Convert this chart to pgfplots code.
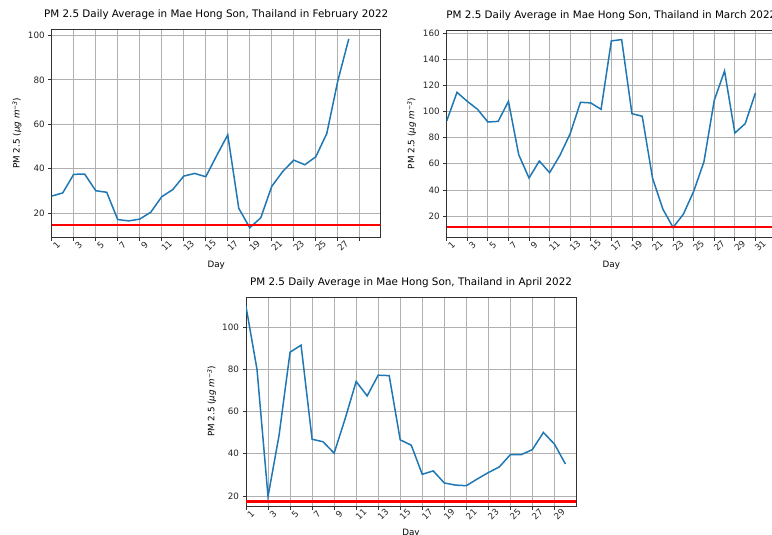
\documentclass[border=0pt]{standalone}
\usepackage{fontspec}
\setmainfont{DejaVu Sans}
\usepackage{pgfplots}
\pgfplotsset{compat=1.18}
\definecolor{mplblue}{HTML}{1F77B4}
\definecolor{gridc}{HTML}{B0B0B0}
\definecolor{framec}{HTML}{333333}
\definecolor{hred}{HTML}{FF0000}
\pgfplotsset{
  mystyle/.style={
    scale only axis, anchor=south west,
    axis line style={line width=0.8bp, color=framec},
    grid=major, major grid style={line width=0.8bp, color=gridc},
    tick style={line width=0.8bp, color=framec},
    tick align=outside, major tick length=3.5bp,
    xtick pos=bottom, ytick pos=left,
    /pgf/number format/assume math mode=true,
    scaled ticks=false,
    tick label style={font=\fontsize{8.8}{10}\selectfont, color=black!85},
    xticklabel style={rotate=45, anchor=center, yshift=-7bp},
    title style={font=\fontsize{10.4}{12}\selectfont, at={(axis description cs:0.5,1)}, anchor=south, yshift=3bp, inner sep=0pt},
    xlabel={Day},
    xlabel style={font=\fontsize{8.8}{10}\selectfont, at={(axis description cs:0.5,0)}, yshift=-27.7bp, anchor=center, inner sep=0pt},
    ylabel={PM 2.5 (\textit{μg m}\raisebox{0.55ex}{\fontsize{6.2}{7}\selectfont\textit{−3}})},
    ylabel style={font=\fontsize{8.8}{10}\selectfont, at={(axis description cs:0,0.5)}, anchor=center, inner sep=0pt},
  }
}
\begin{document}
\begin{tikzpicture}
\useasboundingbox (0bp,0bp) rectangle (772bp,535bp);
% February
\begin{axis}[mystyle, at={(51.7bp,297.7bp)}, width=329bp, height=208bp,
  xmin=1, xmax=30.9, ymin=9.0, ymax=102.8,
  ylabel style={yshift=34.7bp},
  xtick={1,3,5,7,9,11,13,15,17,19,21,23,25,27,29},
  xticklabels={1,3,5,7,9,11,13,15,17,19,21,23,25,27,{}},
  ytick={20,40,60,80,100},
  title={PM 2.5 Daily Average in Mae Hong Son, Thailand in February 2022}]
\addplot[mplblue, line width=1.5bp] coordinates {
(1,27.6) (2,29.0) (3,37.4) (4,37.5) (5,30.0) (6,29.3) (7,17.0) (8,16.4)
(9,17.2) (10,20.3) (11,27.3) (12,30.5) (13,36.6) (14,37.8) (15,36.3) (16,45.9)
(17,55.2) (18,22.1) (19,13.3) (20,17.8) (21,32.0) (22,38.7) (23,43.8) (24,41.7)
(25,45.3) (26,55.8) (27,79.5) (28,98.5)};
\addplot[hred, line width=1.6bp] coordinates {(1,14.6) (30.9,14.6)};
\end{axis}
% March
\begin{axis}[mystyle, at={(446.7bp,297.7bp)}, width=329.3bp, height=207bp,
  xmin=1, xmax=33, ymin=3.8, ymax=162,
  ylabel style={yshift=35bp},
  xtick={1,3,5,7,9,11,13,15,17,19,21,23,25,27,29,31},
  ytick={20,40,60,80,100,120,140,160},
  title={PM 2.5 Daily Average in Mae Hong Son, Thailand in March 2022}]
\addplot[mplblue, line width=1.5bp] coordinates {
(1,92.7) (2,114.6) (3,107.7) (4,101.6) (5,91.9) (6,92.4) (7,107.7) (8,66.9)
(9,49.1) (10,62.1) (11,53.2) (12,66.4) (13,83.0) (14,107.0) (15,106.5) (16,101.6)
(17,153.9) (18,154.9) (19,98.3) (20,96.3) (21,49.1) (22,25.4) (23,11.3) (24,21.5)
(25,38.9) (26,61.6) (27,108.5) (28,130.9) (29,83.5) (30,90.6) (31,114.1)};
\addplot[hred, line width=1.6bp] coordinates {(1,11.8) (33,11.8)};
\end{axis}
% April
\begin{axis}[mystyle, at={(246bp,29bp)}, width=330bp, height=209bp,
  xmin=1, xmax=30.96, ymin=15.3, ymax=114.2,
  ylabel style={yshift=34.3bp},
  xtick={1,3,5,7,9,11,13,15,17,19,21,23,25,27,29,31},
  xticklabels={1,3,5,7,9,11,13,15,17,19,21,23,25,27,29,{}},
  ytick={20,40,60,80,100},
  title={PM 2.5 Daily Average in Mae Hong Son, Thailand in April 2022}]
\addplot[mplblue, line width=1.5bp] coordinates {
(1,109.7) (2,79.9) (3,19.8) (4,48.7) (5,88.1) (6,91.4) (7,46.9) (8,45.7)
(9,40.3) (10,56.6) (11,74.2) (12,67.4) (13,77.2) (14,77.0) (15,46.6) (16,44.1)
(17,30.3) (18,31.9) (19,26.2) (20,25.2) (21,24.9) (22,28.1) (23,31.1) (24,33.8)
(25,39.6) (26,39.6) (27,42.0) (28,50.1) (29,44.6) (30,35.2)};
\addplot[hred, line width=2.3bp] coordinates {(1,17.5) (30.96,17.5)};
\end{axis}
\end{tikzpicture}
\end{document}
